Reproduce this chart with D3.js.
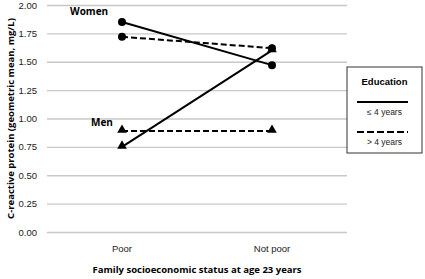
<!DOCTYPE html>
<html>
<head>
<meta charset="utf-8">
<script src="https://cdn.jsdelivr.net/npm/d3@7"></script>
<style>
  body { margin: 0; background: #fff; }
  svg { display: block; font-family: "Open Sans", "Noto Sans", sans-serif; }
</style>
</head>
<body>
<div id="chart"></div>
<script>
// categories and values
const categories = ["Poor", "Not poor"];
const yTicks = [0, 0.25, 0.5, 0.75, 1, 1.25, 1.5, 1.75, 2];

const womenLow = [1.85, 1.47];   // <= 4 years
const womenHigh = [1.72, 1.62];  // > 4 years
const menLow = [0.75, 1.60];
const menHigh = [0.89, 0.89];

const series = [
  {name: "women-low", values: womenLow, dashed: false, shape: "circle"},
  {name: "women-high", values: womenHigh, dashed: true, shape: "circle"},
  {name: "men-low", values: menLow, dashed: false, shape: "triangle"},
  {name: "men-high", values: menHigh, dashed: true, shape: "triangle"}
];

const W = 425, H = 279;
const margin = {top: 5, right: 78, bottom: 47, left: 47};
const width = W - margin.left - margin.right;
const height = H - margin.top - margin.bottom;

const svg = d3.select("#chart").append("svg")
  .attr("width", W)
  .attr("height", H);

const g = svg.append("g")
  .attr("transform", `translate(${margin.left}, ${margin.top})`);

const x = d3.scaleBand()
  .domain(categories)
  .range([0, width]);

const y = d3.scaleLinear()
  .domain([0, 2])
  .range([height, 0]);

// gridlines + y labels
const yAxis = g.append("g")
  .call(d3.axisLeft(y).tickValues(yTicks).tickFormat(d3.format(".2f")).tickSize(-width).tickPadding(10));
yAxis.select(".domain").remove();
yAxis.selectAll(".tick line").attr("stroke", "#c8c8c8").attr("stroke-width", 1.3);
yAxis.selectAll(".tick text").attr("font-size", 9.5).attr("fill", "#222");

// x labels
const xAxis = g.append("g")
  .attr("transform", `translate(0, ${height})`)
  .call(d3.axisBottom(x).tickSize(0).tickPadding(13));
xAxis.select(".domain").remove();
xAxis.selectAll(".tick text").attr("font-size", 9.5).attr("fill", "#222");

// lines
const line = d3.line()
  .x((d, i) => x(categories[i]) + x.bandwidth() / 2)
  .y(d => y(d));

g.selectAll(".series")
  .data(series)
  .join("path")
    .attr("class", "series")
    .attr("d", d => line(d.values))
    .attr("fill", "none")
    .attr("stroke", "#000")
    .attr("stroke-width", 2)
    .attr("stroke-dasharray", d => d.dashed ? "6,3" : null);

// markers
series.forEach(s => {
  const sym = d3.symbol()
    .type(s.shape === "circle" ? d3.symbolCircle : d3.symbolTriangle)
    .size(s.shape === "circle" ? 50 : 40);
  g.selectAll(null)
    .data(s.values)
    .join("path")
      .attr("d", sym)
      .attr("transform", (d, i) => `translate(${x(categories[i]) + x.bandwidth() / 2}, ${y(d) + (s.shape === "circle" ? 0 : -1)})`)
      .attr("fill", "#000");
});

// group labels
g.append("text")
  .attr("x", 23).attr("y", 10)
  .attr("font-size", 10).attr("font-weight", "bold")
  .text("Women");
g.append("text")
  .attr("x", 44).attr("y", y(0.93))
  .attr("font-size", 10).attr("font-weight", "bold")
  .text("Men");

// axis titles
svg.append("text")
  .attr("transform", `translate(14, ${margin.top + height / 2}) rotate(-90)`)
  .attr("text-anchor", "middle")
  .attr("font-size", 9.5).attr("font-weight", "bold")
  .text("C-reactive protein (geometric mean, mg/L)");

svg.append("text")
  .attr("x", margin.left + width / 2).attr("y", 273)
  .attr("text-anchor", "middle")
  .attr("font-size", 9.5).attr("font-weight", "bold")
  .text("Family socioeconomic status at age 23 years");

// legend
const legend = svg.append("g")
  .attr("transform", "translate(347, 67)")
  .attr("font-family", "'Liberation Sans', Arial, sans-serif");

legend.append("rect")
  .attr("width", 75).attr("height", 86)
  .attr("fill", "#fff").attr("stroke", "#333").attr("stroke-width", 1);

legend.append("text")
  .attr("x", 37.5).attr("y", 18)
  .attr("text-anchor", "middle")
  .attr("font-size", 9.5).attr("font-weight", "bold")
  .text("Education");

const legendItems = [
  {label: "\u2264 4 years", dashed: false},
  {label: "> 4 years", dashed: true}
];

legendItems.forEach((item, i) => {
  const yy = 35 + i * 30;
  legend.append("line")
    .attr("x1", 10).attr("x2", 61)
    .attr("y1", yy).attr("y2", yy)
    .attr("stroke", "#000").attr("stroke-width", 2)
    .attr("stroke-dasharray", item.dashed ? "7,3" : null);
  legend.append("text")
    .attr("x", 37.5).attr("y", yy + 13)
    .attr("text-anchor", "middle")
    .attr("font-size", 8.5).attr("fill", "#222")
    .text(item.label);
});
</script>
</body>
</html>
